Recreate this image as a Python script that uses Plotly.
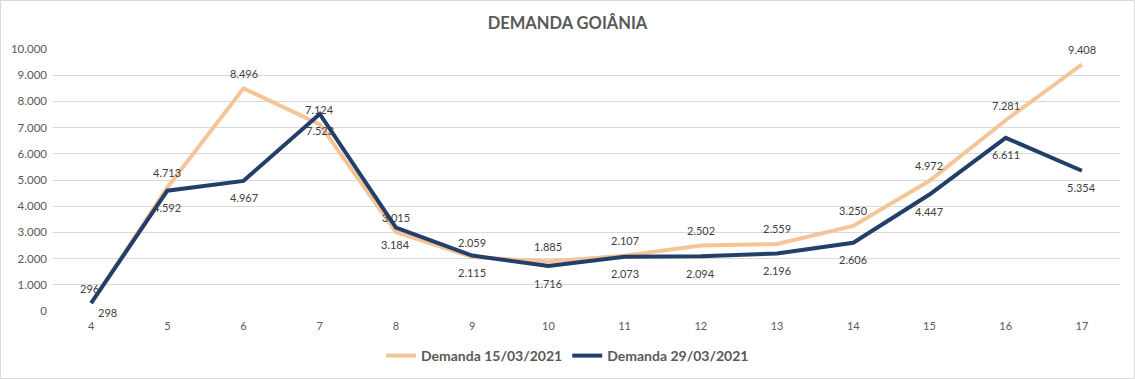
import plotly.graph_objects as go

categories = ["4", "5", "6", "7", "8", "9", "10", "11", "12", "13", "14", "15", "16", "17"]
demanda_15 = [296, 4713, 8496, 7124, 3015, 2059, 1885, 2107, 2502, 2559, 3250, 4972, 7281, 9408]
demanda_29 = [298, 4592, 4967, 7523, 3184, 2115, 1716, 2073, 2094, 2196, 2606, 4447, 6611, 5354]
y_ticks = [0, 1000, 2000, 3000, 4000, 5000, 6000, 7000, 8000, 9000, 10000]

def fmt(v):
    return f"{v:,}".replace(",", ".")

FONT = "Lato, 'Open Sans', sans-serif"
ORANGE = "#F5C497"
BLUE = "#213F6A"

fig = go.Figure()
fig.add_trace(go.Scatter(
    x=categories, y=demanda_15, mode="lines", name="Demanda 15/03/2021",
    line=dict(color=ORANGE, width=4),
))
fig.add_trace(go.Scatter(
    x=categories, y=demanda_29, mode="lines", name="Demanda 29/03/2021",
    line=dict(color=BLUE, width=4),
))

annotations = []
for i, v in enumerate(demanda_15):
    annotations.append(dict(x=i, y=v, text=fmt(v), showarrow=False, yshift=15,
                            xshift=-2 if i == 0 else 0,
                            font=dict(family=FONT, size=11, color="#404040")))
for i, v in enumerate(demanda_29):
    annotations.append(dict(x=i, y=v, text=fmt(v), showarrow=False,
                            yshift=-9 if i == 0 else -17,
                            xshift=16 if i == 0 else 0,
                            font=dict(family=FONT, size=11, color="#404040")))

fig.update_layout(
    width=1135, height=379,
    margin=dict(l=53, r=15, t=49, b=68),
    paper_bgcolor="white", plot_bgcolor="white",
    separators=",.",
    title=dict(text="<b>DEMANDA GOIÂNIA</b>", x=0.5, xanchor="center",
               y=1 - 23.5 / 379, yanchor="middle",
               font=dict(family=FONT, size=16.5, color="#595959")),
    font=dict(family=FONT, size=11, color="#595959"),
    showlegend=True,
    legend=dict(orientation="h", x=0.5, xanchor="center", xref="container",
                y=1 - 356 / 379, yanchor="middle", yref="container",
                font=dict(family=FONT, size=14, color="#595959", weight="bold"),
                itemwidth=30),
    xaxis=dict(type="category", range=[-0.5, 13.5], showgrid=False, zeroline=False,
               showline=False, ticks="", automargin=False, ticklabelstandoff=7,
               tickfont=dict(family=FONT, size=11, color="#595959")),
    yaxis=dict(range=[0, 10000], tickvals=y_ticks, tickformat=",d", showgrid=True,
               gridcolor="#D9D9D9", gridwidth=1, zeroline=False, showline=False, ticks="",
               automargin=False, ticklabelstandoff=5,
               tickfont=dict(family=FONT, size=11.5, color="#595959")),
    annotations=annotations,
    shapes=[dict(type="rect", xref="paper", yref="paper", x0=-52.5/1067, x1=1+14.5/1067,
                 y0=-67.5/262, y1=1+48.5/262, line=dict(color="#D9D9D9", width=1))],
)

fig.write_html("out.html", config={"displayModeBar": False},
               post_script="document.body.style.margin='0';")
